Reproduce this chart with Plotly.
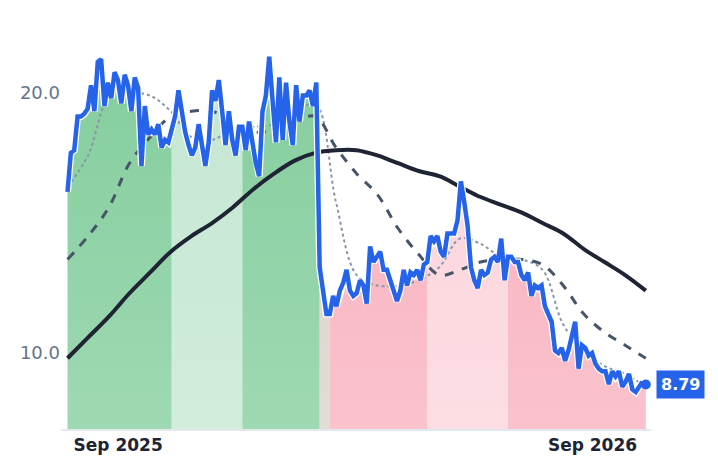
import pandas as pd
import plotly.graph_objects as go

# price readings, Jul 24 2025 -> Oct 12 2026
price = [16.2, 17.7, 17.8, 19.1, 19.1, 19.2, 19.4, 20.3, 19.3, 21.2, 21.3, 19.5, 20.4, 19.8, 20.8, 20.5,
         19.6, 20.7, 20.3, 19.3, 20.6, 20.2, 17.2, 19.5, 18.4, 18.6, 18.4, 18.8, 17.9, 18.2, 18.1, 18.6,
         19.1, 20.1, 19.2, 18.5, 18.0, 17.6, 17.9, 18.8, 18.0, 17.2, 18.1, 20.1, 19.7, 20.5, 19.3, 18.0,
         19.3, 18.2, 17.6, 18.7, 18.7, 17.8, 18.9, 18.1, 17.3, 16.8, 19.3, 19.9, 21.4, 19.7, 18.1, 20.6,
         18.2, 20.4, 18.9, 18.0, 20.3, 18.9, 19.9, 19.9, 20.1, 19.5, 20.4,
         13.3, 12.4, 11.5, 11.5, 12.2, 11.8, 12.4, 12.7, 13.2, 12.4, 12.2, 12.3, 12.8, 12.6, 11.9, 14.1,
         13.5, 13.7, 13.9, 13.2, 13.2, 12.8, 12.4, 12.0, 12.4, 13.2, 12.6, 13.1, 13.0, 13.2, 12.8, 13.4,
         13.5, 14.5, 14.3, 14.5, 13.9, 13.7, 14.6, 14.6, 14.6, 15.1, 16.6, 15.8, 14.9, 13.3, 12.8, 12.5,
         13.2, 13.0, 13.1, 13.6, 13.7, 13.5, 14.4, 12.8, 13.7, 13.7, 13.5, 13.5, 13.0, 12.8, 13.1, 12.2,
         12.6, 12.5, 12.6, 11.8, 11.5, 11.2, 10.1, 10.0, 10.2, 9.7, 10.1, 10.7, 11.2, 9.4, 10.3, 10.2,
         9.9, 10.0, 9.6, 9.4, 9.3, 9.3, 8.8, 9.3, 9.1, 9.3, 8.7, 8.9, 9.2, 8.6, 8.5, 8.7, 8.9, 8.79]
dates = pd.date_range("2025-07-24", "2026-10-12", periods=len(price))

# moving averages read at evenly spaced dates
ma_short = [16.4, 17.6, 19.8, 20.0, 19.9, 19.3, 18.3, 18.2, 18.6, 18.7, 18.8, 19.2, 19.6, 15.8, 13.0,
            12.6, 12.6, 12.8, 13.3, 14.4, 14.2, 13.7, 13.6, 13.2, 11.1, 10.1, 9.5, 9.2, 8.7]
ma_mid = [13.6, 14.5, 15.6, 17.3, 18.3, 19.1, 19.3, 19.3, 18.9, 18.5, 18.6, 18.9, 19.1, 17.9, 16.9,
          16.1, 14.8, 13.8, 13.0, 13.2, 13.5, 13.6, 13.6, 13.4, 12.6, 11.5, 10.8, 10.3, 9.8]
ma_long = [9.8, 10.6, 11.4, 12.3, 13.1, 13.9, 14.5, 15.0, 15.6, 16.3, 16.9, 17.4, 17.7, 17.8, 17.8,
           17.6, 17.3, 17.0, 16.8, 16.4, 16.0, 15.7, 15.4, 15.0, 14.6, 14.0, 13.5, 13.0, 12.4]
ma_dates = pd.date_range("2025-07-24", "2026-10-12", periods=len(ma_long))

# regime bands: (start, end, top colour, bottom colour)
bands = [
    ("2025-07-24", "2025-10-13", "rgba(110,196,140,0.85)", "rgba(150,214,172,0.8)"),
    ("2025-10-13", "2025-12-08", "rgba(190,228,205,0.9)", "rgba(212,238,222,0.9)"),
    ("2025-12-08", "2026-02-04", "rgba(110,196,140,0.85)", "rgba(150,214,172,0.8)"),
    ("2026-02-04", "2026-02-12", "rgba(215,205,195,0.8)", "rgba(225,218,210,0.8)"),
    ("2026-02-12", "2026-04-29", "rgba(248,172,186,0.85)", "rgba(249,196,206,0.85)"),
    ("2026-04-29", "2026-06-30", "rgba(251,210,218,0.9)", "rgba(252,224,229,0.9)"),
    ("2026-06-30", "2026-10-12", "rgba(248,172,186,0.85)", "rgba(249,196,206,0.85)"),
]

fig = go.Figure()
s = pd.Series(price, index=dates)
for start, end, top, bottom in bands:
    seg = s[(s.index >= pd.Timestamp(start) - pd.Timedelta(days=3)) & (s.index <= pd.Timestamp(end))]
    fig.add_trace(go.Scatter(x=seg.index, y=seg.values, mode="lines", line=dict(width=0, shape="hv"),
                             fill="tozeroy",
                             fillgradient=dict(type="vertical", colorscale=[[0, bottom], [1, top]]),
                             hoverinfo="skip", showlegend=False))

fig.add_trace(go.Scatter(x=ma_dates, y=ma_short, mode="lines", line=dict(color="#8a94a6", width=2, dash="dot", shape="spline"), showlegend=False))
fig.add_trace(go.Scatter(x=ma_dates, y=ma_mid, mode="lines", line=dict(color="#475569", width=3, dash="dash", shape="spline"), showlegend=False))
fig.add_trace(go.Scatter(x=ma_dates, y=ma_long, mode="lines", line=dict(color="#1e2433", width=4, shape="spline"), showlegend=False))

# price line with white halo
fig.add_trace(go.Scatter(x=dates[:-1], y=price[:-1], mode="lines", line=dict(color="white", width=7), showlegend=False))
fig.add_trace(go.Scatter(x=dates[:-1], y=price[:-1], mode="lines", line=dict(color="#2563eb", width=4.5), showlegend=False))
fig.add_trace(go.Scatter(x=[dates[-1]], y=[price[-1]], mode="markers", marker=dict(color="#2563eb", size=10), showlegend=False))

fig.add_annotation(x=dates[-1], y=price[-1], text="<b>8.79</b>", showarrow=False, xanchor="left", xshift=10,
                   font=dict(color="white", size=16, family="DejaVu Sans"), bgcolor="#2563eb", borderpad=4)

fig.update_xaxes(range=["2025-07-19", "2026-10-16"], showgrid=False, zeroline=False,
                 tickvals=["2025-09-01", "2026-09-01"], ticktext=["<b>Sep 2025</b>", "<b>Sep 2026</b>"],
                 tickfont=dict(size=17, color="#1e2433", family="DejaVu Sans"),
                 showline=True, linecolor="#e2e8f0", linewidth=2, ticks="")
fig.update_yaxes(range=[7.08, 22.5], showgrid=False, zeroline=False, tickvals=[10, 20], ticktext=["10.0", "20.0"],
                 tickfont=dict(size=18, color="#64748b", family="DejaVu Sans"))
fig.update_layout(width=718, height=464, margin=dict(l=53, r=75, t=20, b=43),
                  plot_bgcolor="white", paper_bgcolor="white")
fig.write_html("out.html")
